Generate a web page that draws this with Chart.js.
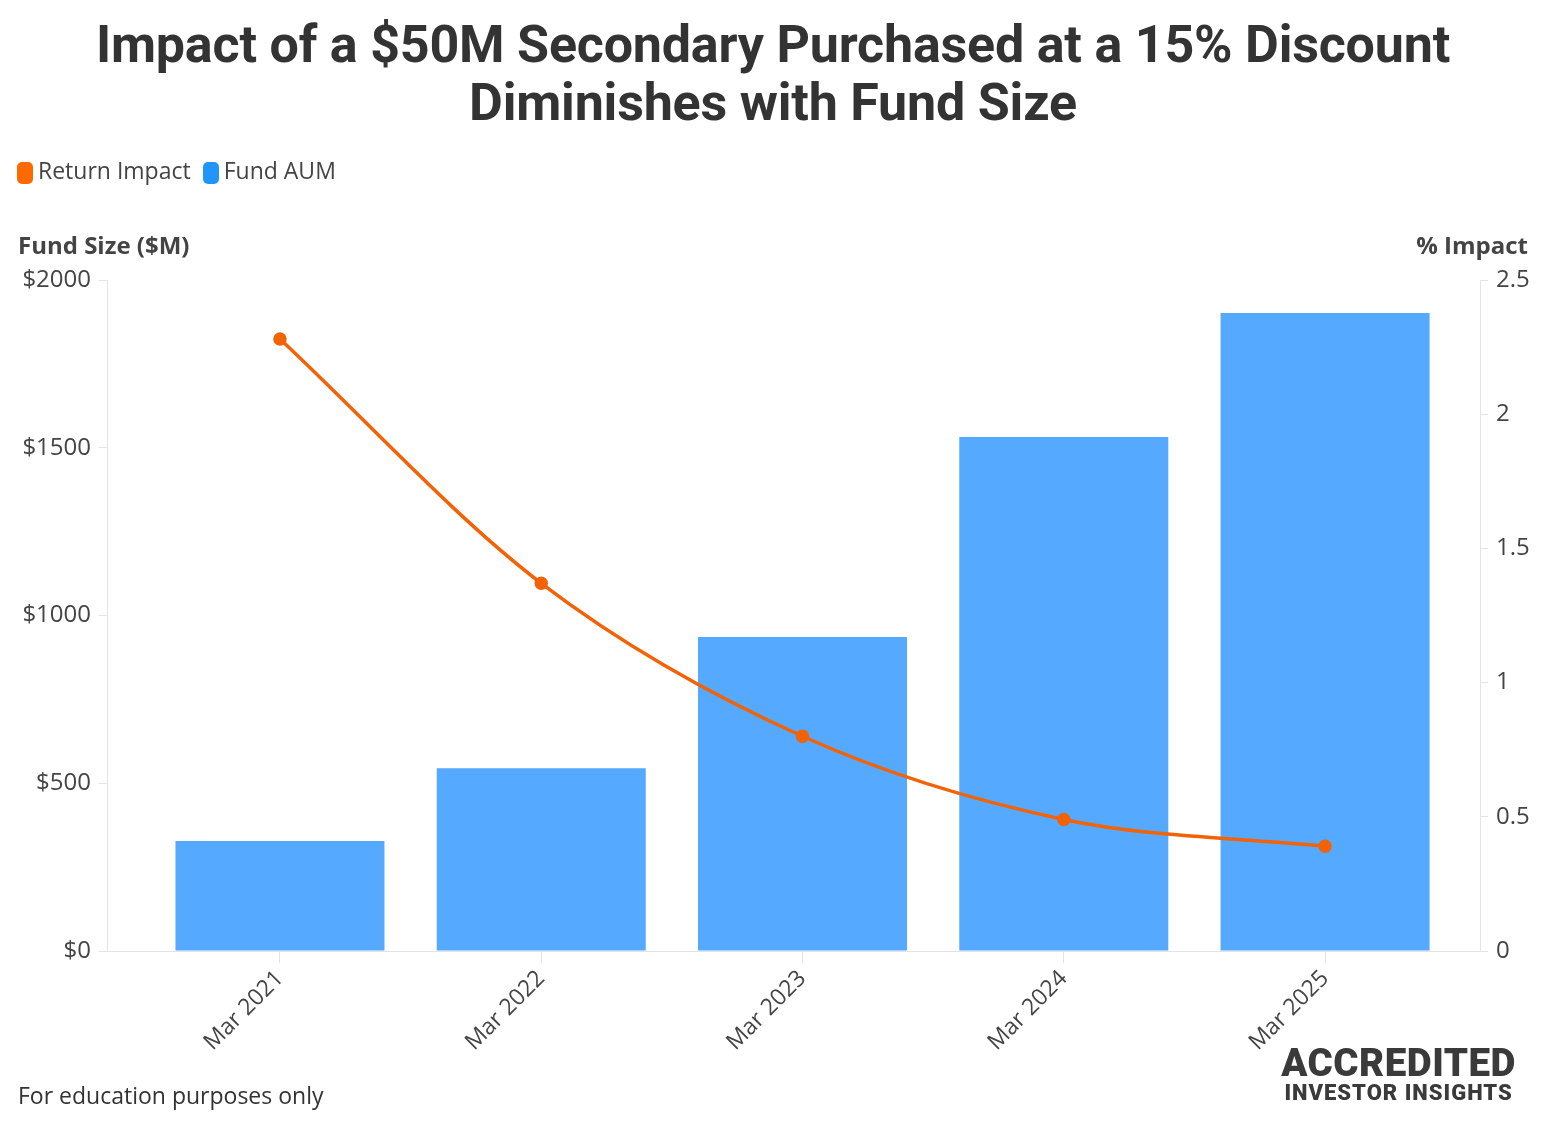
<!DOCTYPE html>
<html>
<head>
<meta charset="utf-8">
<script src="https://cdn.jsdelivr.net/npm/chart.js@4"></script>
<style>
  body { margin: 0; background: #fff; }
  #wrap { position: relative; width: 1546px; height: 1124px; }
  #chart { position: absolute; left: 0; top: 0; }
  #title { position: absolute; left: 0; top: 16px; width: 1546px; text-align: center;
           font: bold 52px/58px "Roboto", sans-serif; color: #333; letter-spacing: -0.2px; }
  #legend { position: absolute; left: 17px; top: 154px; font: 23px "Open Sans", sans-serif; color: #444; }
  #legend span.item { margin-right: 12px; }
  #legend i { display: inline-block; width: 16px; height: 22px; border-radius: 5px; vertical-align: -5px; margin-right: 5px; }
  .axt { position: absolute; top: 228px; font: bold 24px "Open Sans", sans-serif; color: #444; }
  #footer { position: absolute; left: 18px; top: 1079px; font: 23px "Open Sans", sans-serif; color: #333; }
  #logo { position: absolute; right: 30px; top: 1044px; text-align: center; color: #3a3a3a; font-family: "Roboto", sans-serif; font-weight: 900; }
  #logo .a { font-size: 38.5px; letter-spacing: 0.5px; line-height: 38px; }
  #logo .b { font-size: 22px; line-height: 22px; letter-spacing: 1px; }
</style>
</head>
<body>
<div id="wrap">
  <canvas id="chart" width="1546" height="1124"></canvas>
  <div id="title">Impact of a $50M Secondary Purchased at a 15% Discount<br>Diminishes with Fund Size</div>
  <div id="legend"></div>
  <div class="axt" style="left:18px">Fund Size ($M)</div>
  <div class="axt" style="right:18px">% Impact</div>
  <div id="footer">For education purposes only</div>
  <div id="logo"><div class="a">ACCREDITED</div><div class="b">INVESTOR INSIGHTS</div></div>
</div>
<script>
const categories = ['Mar 2021', 'Mar 2022', 'Mar 2023', 'Mar 2024', 'Mar 2025'];
const fundAum = [328, 545, 936, 1532, 1902];
const returnImpact = [2.28, 1.37, 0.80, 0.49, 0.39];
const leftTicks = [0, 500, 1000, 1500, 2000];
const rightTicks = [0, 0.5, 1, 1.5, 2, 2.5];

document.addEventListener('DOMContentLoaded', function () {
    const ctx = document.getElementById('chart');
    const tickFont = { family: 'Open Sans', size: 24 };

    // x is a linear index axis so the category band can sit off-centre like the original
    const aumPoints = fundAum.map((v, i) => ({ x: i, y: v }));
    const impactPoints = returnImpact.map((v, i) => ({ x: i, y: v }));

    const chart = new Chart(ctx, {
        data: {
            datasets: [{
                type: 'line',
                label: 'Return Impact',
                data: impactPoints,
                yAxisID: 'y1',
                borderColor: '#f26207',
                backgroundColor: '#f26207',
                borderWidth: 3.5,
                pointRadius: 5,
                pointHoverRadius: 5,
                cubicInterpolationMode: 'monotone',
                order: 0
            }, {
                type: 'bar',
                label: 'Fund AUM',
                data: aumPoints,
                yAxisID: 'y',
                backgroundColor: '#55aaff',
                categoryPercentage: 1,
                barPercentage: 0.8,
                order: 1
            }]
        },
        options: {
            responsive: false,
            animation: false,
            layout: { padding: { left: 0, right: 0, top: 280, bottom: 0 } },
            plugins: {
                title: { display: false },
                legend: { display: false },
                tooltip: { enabled: false }
            },
            scales: {
                x: {
                    type: 'linear',
                    min: -0.662,
                    max: 4.593,
                    offset: false,
                    afterFit: s => { s.height = 173; },
                    afterBuildTicks: s => { s.ticks = categories.map((c, i) => ({ value: i })); },
                    grid: { offset: false, drawOnChartArea: false, drawTicks: true, tickLength: 12, color: '#e3e3e3' },
                    border: { color: '#e3e3e3' },
                    ticks: {
                        callback: v => categories[v],
                        maxRotation: 45,
                        minRotation: 45,
                        padding: 2,
                        font: { family: 'Open Sans', size: 23 },
                        color: '#444'
                    }
                },
                y: {
                    position: 'left',
                    min: 0,
                    max: 2000,
                    afterFit: s => { s.width = 107; },
                    afterBuildTicks: s => { s.ticks = leftTicks.map(v => ({ value: v })); },
                    grid: { drawOnChartArea: false, drawTicks: true, tickLength: 8, color: '#e3e3e3' },
                    border: { color: '#e3e3e3' },
                    ticks: {
                        callback: v => '$' + v,
                        padding: 8,
                        font: tickFont,
                        color: '#444'
                    }
                },
                y1: {
                    position: 'right',
                    min: 0,
                    max: 2.5,
                    afterFit: s => { s.width = 66; },
                    afterBuildTicks: s => { s.ticks = rightTicks.map(v => ({ value: v })); },
                    grid: { drawOnChartArea: false, drawTicks: true, tickLength: 8, color: '#e3e3e3' },
                    border: { color: '#e3e3e3' },
                    ticks: {
                        callback: v => String(v),
                        padding: 8,
                        font: tickFont,
                        color: '#444'
                    }
                }
            }
        }
    });

    // legend from the datasets
    const legend = document.getElementById('legend');
    const legendColors = ['#ff6a00', '#2196f8'];
    chart.data.datasets.forEach(function (ds, i) {
        const item = document.createElement('span');
        item.className = 'item';
        item.innerHTML = '<i style="background:' + legendColors[i] + '"></i>' + ds.label;
        legend.appendChild(item);
    });
});
</script>
</body>
</html>
